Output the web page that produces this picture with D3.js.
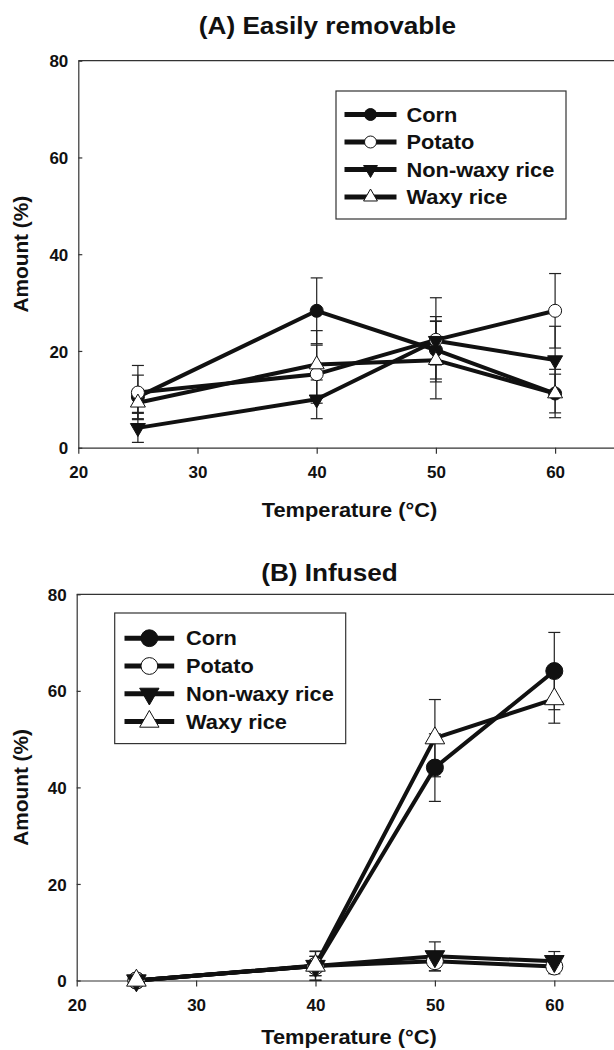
<!DOCTYPE html>
<html>
<head>
<meta charset="utf-8">
<script src="https://cdn.jsdelivr.net/npm/d3@7"></script>
<style>
  body { margin: 0; background: #fff; }
  text { font-family: "Liberation Sans", Arial, sans-serif; font-weight: bold; fill: #111; }
</style>
</head>
<body>
<svg id="chart"></svg>
<script>
// x values (temperature, C) and axis ticks
const temps = [25, 40, 50, 60];
const seriesNames = ["Corn", "Potato", "Non-waxy rice", "Waxy rice"];
const xTicks = [20, 30, 40, 50, 60];
const yTicks = [0, 20, 40, 60, 80];

// (A) easily removable, amount (%) and error
const removableCorn = [10.5, 28.3, 20.2, 11.2];
const removablePotato = [11.4, 15.2, 22.3, 28.3];
const removableNonWaxy = [4.1, 10.0, 22.1, 18.1];
const removableWaxy = [9.3, 17.2, 18.1, 11.2];
const removableCornErr = [4.5, 6.8, 6.0, 5.0];
const removablePotatoErr = [5.6, 6.0, 8.7, 7.7];
const removableNonWaxyErr = [3.0, 4.0, 5.0, 7.0];
const removableWaxyErr = [2.0, 7.0, 8.0, 4.0];

// (B) infused
const infusedCorn = [0, 3.0, 44.1, 64.1];
const infusedPotato = [0, 3.0, 4.0, 2.9];
const infusedNonWaxy = [0, 3.0, 5.0, 4.0];
const infusedWaxy = [0, 3.1, 50.2, 58.3];
const infusedCornErr = [0.5, 2.0, 7.0, 8.0];
const infusedPotatoErr = [0.5, 2.0, 2.0, 1.5];
const infusedNonWaxyErr = [0.5, 3.0, 3.0, 2.0];
const infusedWaxyErr = [0.5, 3.0, 8.0, 5.0];

const W = 614, H = 1050;
const ink = "#111";
const stretchX = 1.09; // the figure is a bit wider than the font

const svg = d3.select("#chart").attr("width", W).attr("height", H);

// marker shapes: filled circle, open circle, down triangle, up triangle
const markerStyle = [
  { type: d3.symbolCircle, fill: ink, rot: 0 },
  { type: d3.symbolCircle, fill: "#fff", rot: 0 },
  { type: d3.symbolTriangle, fill: ink, rot: 180 },
  { type: d3.symbolTriangle, fill: "#fff", rot: 0 }
];

function stretch(sel, k) {
  sel.each(function () {
    const len = this.getComputedTextLength();
    d3.select(this).attr("textLength", len * k).attr("lengthAdjust", "spacingAndGlyphs");
  });
}

function marker(g, i, x, y, r) {
  const m = markerStyle[i];
  const size = m.type === d3.symbolCircle ? Math.PI * r * r : r * r * 2.3;
  g.append("path")
    .attr("d", d3.symbol().type(m.type).size(size)())
    .attr("transform", `translate(${x},${y}) rotate(${m.rot})`)
    .attr("fill", m.fill)
    .attr("stroke", ink)
    .attr("stroke-width", 1);
}

function panel(p) {
  const x = d3.scaleLinear().domain([20, 70]).range([p.left, p.left + 5 * p.step]);
  const y = d3.scaleLinear().domain([0, 80]).range([p.bottom, p.top]);
  const g = svg.append("g");

  // frame: top line + axes
  g.append("line")
    .attr("x1", x(20)).attr("x2", x(70)).attr("y1", y(80)).attr("y2", y(80))
    .attr("stroke", "#333").attr("stroke-width", 1.2);

  const xAxis = g.append("g")
    .attr("transform", `translate(0,${y(0)})`)
    .call(d3.axisBottom(x).tickValues(xTicks).tickSizeInner(6).tickSizeOuter(0).tickPadding(12));
  const yAxis = g.append("g")
    .attr("transform", `translate(${x(20)},0)`)
    .call(d3.axisLeft(y).tickValues(yTicks).tickSizeInner(-4).tickSizeOuter(0).tickPadding(10));
  [xAxis, yAxis].forEach(a => {
    a.select(".domain").attr("stroke", "#333").attr("stroke-width", 1.2);
    a.selectAll(".tick line").attr("stroke", "#333").attr("stroke-width", 1.2);
    a.selectAll(".tick text").attr("font-size", 17).attr("fill", ink)
      .style("font-family", '"Liberation Sans", Arial, sans-serif').style("font-weight", "bold");
  });
  yAxis.selectAll(".tick text").attr("dy", "0.36em");

  // titles
  g.append("text").attr("x", p.titleX).attr("y", p.titleY)
    .attr("text-anchor", "middle").attr("font-size", 24).text(p.title)
    .call(stretch, stretchX);
  g.append("text").attr("x", p.xLabelX).attr("y", p.xLabelY)
    .attr("text-anchor", "middle").attr("font-size", 20).text("Temperature (\u00B0C)")
    .call(stretch, stretchX);
  g.append("text")
    .attr("transform", `translate(${p.yLabelX},${(y(0) + y(80)) / 2}) rotate(-90)`)
    .attr("text-anchor", "middle").attr("font-size", 20).text("Amount (%)")
    .call(stretch, 1.04);

  // error bars
  const cap = 6;
  p.series.forEach((vals, i) => {
    vals.forEach((v, j) => {
      const e = p.errors[i][j];
      const cx = x(temps[j]);
      const eb = g.append("g").attr("stroke", "#222").attr("stroke-width", 1.2);
      eb.append("line").attr("x1", cx).attr("x2", cx).attr("y1", y(v + e)).attr("y2", y(v - e));
      eb.append("line").attr("x1", cx - cap).attr("x2", cx + cap).attr("y1", y(v + e)).attr("y2", y(v + e));
      eb.append("line").attr("x1", cx - cap).attr("x2", cx + cap).attr("y1", y(v - e)).attr("y2", y(v - e));
    });
  });

  // lines
  const line = d3.line().x((d, j) => x(temps[j])).y(d => y(d));
  p.series.forEach(vals => {
    g.append("path").attr("d", line(vals))
      .attr("fill", "none").attr("stroke", ink).attr("stroke-width", 4).attr("stroke-linejoin", "round");
  });

  // markers
  p.series.forEach((vals, i) => {
    vals.forEach((v, j) => marker(g, i, x(temps[j]), y(v), p.r));
  });

  // legend
  const L = p.legend;
  g.append("rect").attr("x", L.x).attr("y", L.y).attr("width", L.w).attr("height", L.h)
    .attr("fill", "#fff").attr("stroke", "#333").attr("stroke-width", 1.2);
  seriesNames.forEach((name, i) => {
    const ry = L.row0 + i * L.rowStep;
    g.append("line").attr("x1", L.sx0).attr("x2", L.sx1).attr("y1", ry).attr("y2", ry)
      .attr("stroke", ink).attr("stroke-width", 5);
    marker(g, i, (L.sx0 + L.sx1) / 2, ry, L.r);
    g.append("text").attr("x", L.tx).attr("y", ry).attr("dy", "0.36em")
      .attr("font-size", 20).text(name).call(stretch, stretchX);
  });
}

panel({
  title: "(A) Easily removable",
  series: [removableCorn, removablePotato, removableNonWaxy, removableWaxy],
  errors: [removableCornErr, removablePotatoErr, removableNonWaxyErr, removableWaxyErr],
  left: 78.3, step: 119.2, top: 60.7, bottom: 447.7, r: 6.5,
  titleX: 327.5, titleY: 34, xLabelX: 349.5, xLabelY: 517, yLabelX: 28,
  legend: { x: 336, y: 91, w: 230, h: 128, row0: 114.5, rowStep: 27.5, sx0: 344.5, sx1: 396.5, tx: 406.5, r: 6 }
});

panel({
  title: "(B) Infused",
  series: [infusedCorn, infusedPotato, infusedNonWaxy, infusedWaxy],
  errors: [infusedCornErr, infusedPotatoErr, infusedNonWaxyErr, infusedWaxyErr],
  left: 76.7, step: 119.4, top: 594.3, bottom: 980.5, r: 8.5,
  titleX: 329.5, titleY: 581, xLabelX: 349, xLabelY: 1044, yLabelX: 28,
  legend: { x: 114.7, y: 613, w: 231, h: 130.6, row0: 638.2, rowStep: 27.8, sx0: 124.5, sx1: 174.2, tx: 186, r: 8.4 }
});
</script>
</body>
</html>
